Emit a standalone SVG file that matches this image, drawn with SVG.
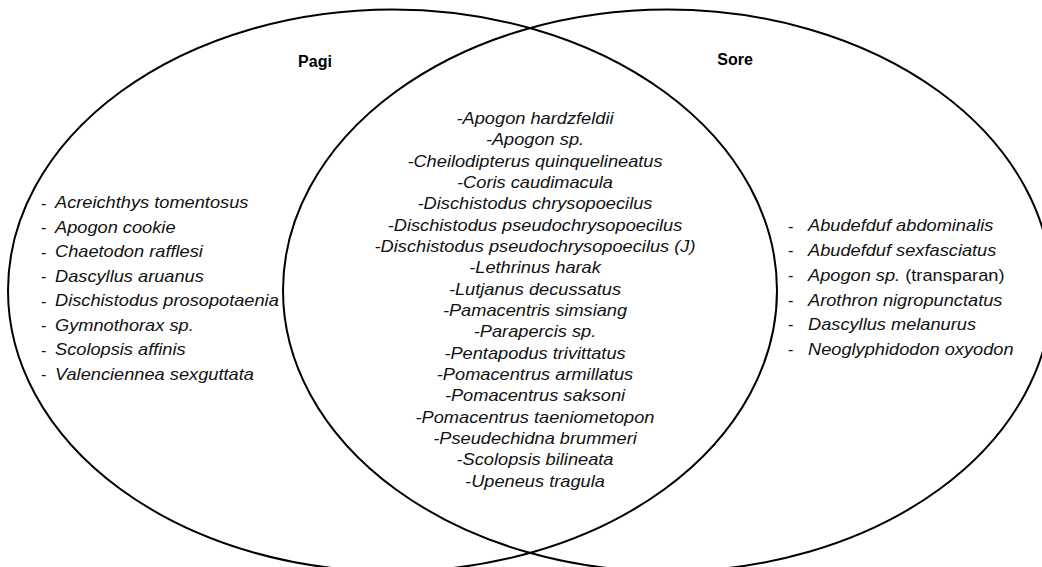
<svg xmlns="http://www.w3.org/2000/svg" width="1042" height="567" viewBox="0 0 1042 567">
<style>
.ring{fill:none;stroke:#000;stroke-width:2}
.lbl{font-family:"Liberation Sans",Arial,sans-serif;font-weight:bold;font-size:16px;fill:#000;text-anchor:middle}
.it{font-family:"Liberation Sans",Arial,sans-serif;font-style:italic;font-size:16.2px;fill:#111}
.dash{font-family:"Liberation Sans",Arial,sans-serif;font-size:16.2px;fill:#111}
.up{font-style:normal}
.mid{text-anchor:middle}
</style>
<rect width="1042" height="567" fill="#fff"/>
<g id="pagi">
<ellipse class="ring" cx="392.5" cy="290.5" rx="384.5" ry="281"/>
<text class="lbl" x="315" y="67">Pagi</text>
<g class="dash">
<text x="41" y="208.5">-</text><text x="41" y="233">-</text><text x="41" y="257.5">-</text><text x="41" y="282">-</text>
<text x="41" y="306.5">-</text><text x="41" y="331">-</text><text x="41" y="355.5">-</text><text x="41" y="380">-</text>
</g>
<g class="it" transform="translate(55,0) scale(1.125,1)">
<text x="0" y="208.5">Acreichthys tomentosus</text>
<text x="0" y="233">Apogon cookie</text>
<text x="0" y="257.5">Chaetodon rafflesi</text>
<text x="0" y="282">Dascyllus aruanus</text>
<text x="0" y="306.5">Dischistodus prosopotaenia</text>
<text x="0" y="331">Gymnothorax sp.</text>
<text x="0" y="355.5">Scolopsis affinis</text>
<text x="0" y="380">Valenciennea sexguttata</text>
</g>
</g>
<g id="sore">
<ellipse class="ring" cx="667.5" cy="290.5" rx="384.5" ry="281"/>
<text class="lbl" x="735" y="65">Sore</text>
<g class="dash">
<text x="788" y="231.5">-</text><text x="788" y="256.2">-</text><text x="788" y="280.9">-</text>
<text x="788" y="305.6">-</text><text x="788" y="330.3">-</text><text x="788" y="355">-</text>
</g>
<g class="it" transform="translate(808,0) scale(1.125,1)">
<text x="0" y="231.5">Abudefduf abdominalis</text>
<text x="0" y="256.2">Abudefduf sexfasciatus</text>
<text x="0" y="280.9">Apogon sp. <tspan class="up">(transparan)</tspan></text>
<text x="0" y="305.6">Arothron nigropunctatus</text>
<text x="0" y="330.3">Dascyllus melanurus</text>
<text x="0" y="355">Neoglyphidodon oxyodon</text>
</g>
</g>
<g id="both">
<g class="it mid" transform="translate(535,0) scale(1.125,1)">
<text x="0" y="124">-Apogon hardzfeldii</text>
<text x="0" y="145.3">-Apogon sp.</text>
<text x="0" y="166.7">-Cheilodipterus quinquelineatus</text>
<text x="0" y="188">-Coris caudimacula</text>
<text x="0" y="209.3">-Dischistodus chrysopoecilus</text>
<text x="0" y="230.7">-Dischistodus pseudochrysopoecilus</text>
<text x="0" y="252">-Dischistodus pseudochrysopoecilus (J)</text>
<text x="0" y="273.3">-Lethrinus harak</text>
<text x="0" y="294.7">-Lutjanus decussatus</text>
<text x="0" y="316">-Pamacentris simsiang</text>
<text x="0" y="337.3">-Parapercis sp.</text>
<text x="0" y="358.7">-Pentapodus trivittatus</text>
<text x="0" y="380">-Pomacentrus armillatus</text>
<text x="0" y="401.3">-Pomacentrus saksoni</text>
<text x="0" y="422.7">-Pomacentrus taeniometopon</text>
<text x="0" y="444">-Pseudechidna brummeri</text>
<text x="0" y="465.3">-Scolopsis bilineata</text>
<text x="0" y="486.7">-Upeneus tragula</text>
</g>
</g>
<g id="connectors"/>
</svg>
